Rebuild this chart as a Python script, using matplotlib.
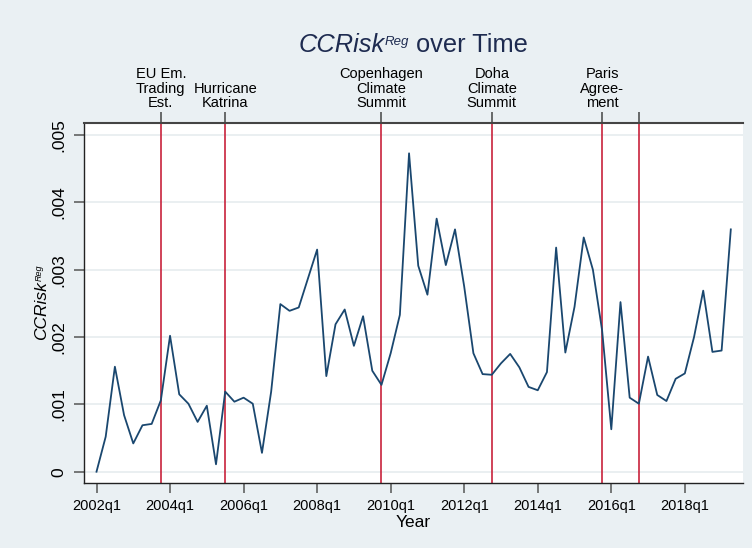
import matplotlib
matplotlib.use('Agg')
import matplotlib.pyplot as plt

# quarterly series 2002q1 .. 2019q2
first_year = 2002
ccrisk = [0.00000, 0.00052, 0.00156, 0.00084, 0.00042, 0.00069, 0.00071, 0.00106, 0.00202, 0.00115,
          0.00101, 0.00074, 0.00098, 0.00011, 0.00119, 0.00104, 0.00110, 0.00101, 0.00028, 0.00119,
          0.00249, 0.00239, 0.00244, 0.00287, 0.00330, 0.00142, 0.00219, 0.00241, 0.00187, 0.00231,
          0.00150, 0.00129, 0.00176, 0.00233, 0.00473, 0.00306, 0.00263, 0.00376, 0.00307, 0.00360,
          0.00275, 0.00176, 0.00145, 0.00144, 0.00161, 0.00175, 0.00155, 0.00126, 0.00121, 0.00148,
          0.00333, 0.00177, 0.00245, 0.00348, 0.00300, 0.00210, 0.00063, 0.00252, 0.00110, 0.00101,
          0.00171, 0.00114, 0.00105, 0.00138, 0.00146, 0.00200, 0.00269, 0.00178, 0.00180, 0.00360]
quarters = ['%dq%d' % (first_year + i // 4, i % 4 + 1) for i in range(len(ccrisk))]

xtick_labels = ['2002q1', '2004q1', '2006q1', '2008q1', '2010q1',
                '2012q1', '2014q1', '2016q1', '2018q1']
ytick_values = [0, 0.001, 0.002, 0.003, 0.004, 0.005]
ytick_labels = ['0', '.001', '.002', '.003', '.004', '.005']

event_quarters = ['2003q4', '2005q3', '2009q4', '2012q4', '2015q4', '2016q4']
event_labels = ['EU Em.\nTrading\nEst.', 'Hurricane\nKatrina', 'Copenhagen\nClimate\nSummit',
                'Doha\nClimate\nSummit', 'Paris\nAgree-\nment', '']

bg = '#eaf0f3'
navy = '#1a476f'
red = '#c8233c'
W, H = 752, 548

plt.rcParams['font.family'] = ['Liberation Sans', 'DejaVu Sans']

fig = plt.figure(figsize=(W / 100, H / 100), dpi=100, facecolor=bg)
ax = fig.add_axes([0.1117, 0.1181, 0.876, 0.657])
ax.set_facecolor('white')

x = list(range(len(ccrisk)))
xpos = {q: i for i, q in enumerate(quarters)}

# horizontal grid
for v in ytick_values:
    ax.axhline(v, color='#e8eef0', linewidth=1.3, zorder=0)

for q in event_quarters:
    ax.axvline(xpos[q], color=red, linewidth=1.2, zorder=2)

ax.plot(x, ccrisk, color=navy, linewidth=1.3, zorder=3)

ax.set_xlim(-1.36, 70.3)
ax.set_ylim(-0.000172, 0.005177)

ax.set_xticks([xpos[q] for q in xtick_labels])
ax.set_xticklabels(xtick_labels, fontsize=10.5)
ax.set_yticks(ytick_values)
ax.set_yticklabels(ytick_labels, fontsize=12.5, rotation=90, va='center')
ax.tick_params(axis='x', length=7, width=1.1, color='#555555', pad=4)
ax.tick_params(axis='y', length=7, width=1.1, color='#555555', pad=6)

for s in ['left', 'bottom']:
    ax.spines[s].set_color('#222222')
    ax.spines[s].set_linewidth(1.0)
ax.spines['right'].set_visible(False)
ax.spines['top'].set_color('#444444')
ax.spines['top'].set_linewidth(1.5)

# event labels on top axis
top = ax.secondary_xaxis('top')
top.set_xticks([xpos[q] for q in event_quarters])
top.set_xticklabels(event_labels, fontsize=10.5)
top.tick_params(axis='x', length=8, width=1.1, color='#444444', pad=1.5)
top.spines['top'].set_visible(False)
for lab in top.get_xticklabels():
    lab.set_linespacing(1.05)

ax.set_xlabel('Year', fontsize=12.5)
ax.xaxis.set_label_coords(0.5, -0.088)


# text with a small raised "Reg" (pixel coords, y from top)
def rich_text(cx, cy, parts, vertical=False, color='black'):
    renderer = fig.canvas.get_renderer()
    widths = []
    for s, size, style, rise in parts:
        t = fig.text(0, 0, s, fontsize=size, style=style)
        widths.append(t.get_window_extent(renderer).width)
        t.remove()
    pos = -sum(widths) / 2
    for (s, size, style, rise), w in zip(parts, widths):
        if vertical:
            px, py = cx - rise, (H - cy) + pos
        else:
            px, py = cx + pos, (H - cy) + rise
        fig.text(px / W, py / H, s, fontsize=size, style=style, color=color,
                 ha='left', va='baseline', rotation=90 if vertical else 0,
                 rotation_mode='anchor')
        pos += w


title_size = 18.3
rich_text(413.4, 51.7, [('CCRisk', title_size, 'italic', 0),
                        ('Reg', title_size * 0.52, 'italic', 6.7),
                        (' over Time', title_size, 'normal', 0)], color='#1e2b50')

ylab_size = 12.5
rich_text(46.5, 302.5, [('CCRisk', ylab_size, 'italic', 0),
                        ('Reg', ylab_size * 0.52, 'italic', 6.7 * ylab_size / title_size)],
          vertical=True)

plt.savefig('out.png', dpi=100, facecolor=bg)
